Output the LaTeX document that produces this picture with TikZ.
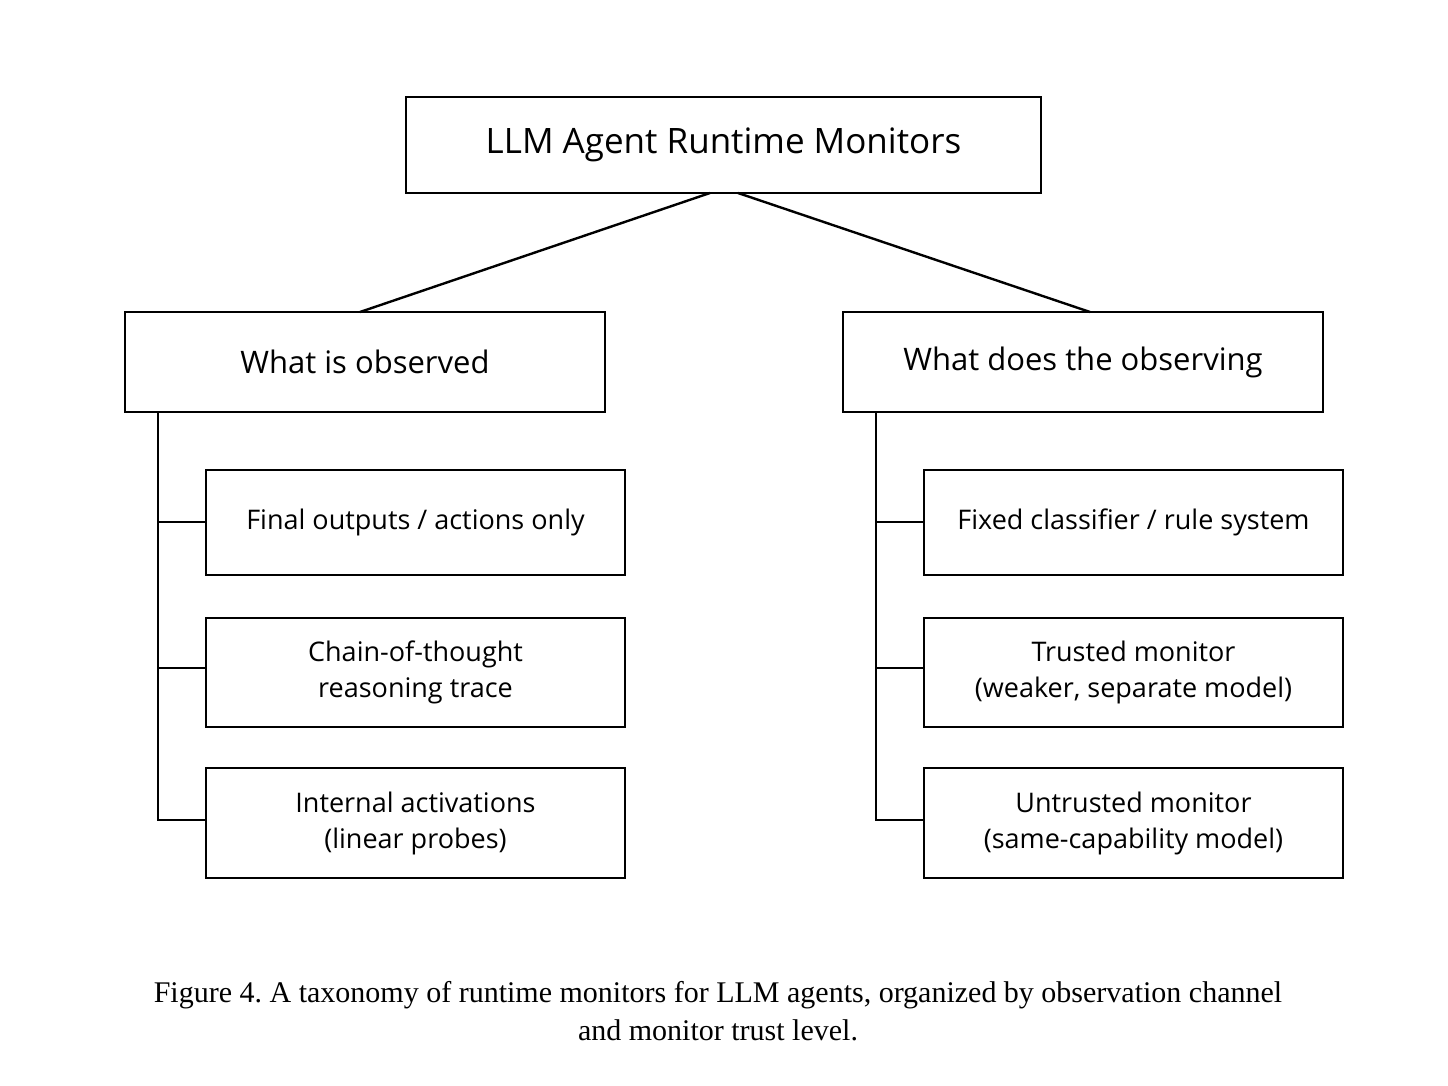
\documentclass[tikz,border=0pt]{standalone}
\usepackage{fontspec}
\setmainfont{Liberation Serif}
\newfontfamily\boxfont{Open Sans}
\begin{document}
\begin{tikzpicture}[x=0.5pt,y=-0.5pt,line width=1.2pt,
  bx/.style={draw,inner sep=0pt,align=center,font=\boxfont\fontsize{13.5}{18}\selectfont},
  rootbx/.style={bx,minimum width=317.5pt,minimum height=48pt,font=\boxfont\fontsize{17.5}{21}\selectfont},
  midbx/.style={bx,minimum width=240pt,minimum height=50pt,font=\boxfont\fontsize{15.5}{20}\selectfont},
  leafbx/.style={bx,minimum width=209.5pt}]
\useasboundingbox (0,0) rectangle (1448,1086);
\node[rootbx] (root) at (723.5,145) {LLM Agent Runtime Monitors};
\node[midbx] (L) at (365,362) {What is observed};
\node[midbx] (R) at (1083,362) {What does the observing};
\node[leafbx,minimum height=52.5pt] (L1) at (415.5,522.5) {Final outputs / actions only};
\node[leafbx,minimum height=54.5pt] (L2) at (415.5,672.5) {Chain-of-thought\\reasoning trace};
\node[leafbx,minimum height=55pt] (L3) at (415.5,823) {Internal activations\\(linear probes)};
\node[leafbx,minimum height=52.5pt] (R1) at (1133.5,522.5) {Fixed classifier / rule system};
\node[leafbx,minimum height=54.5pt] (R2) at (1133.5,672.5) {Trusted monitor\\(weaker, separate model)};
\node[leafbx,minimum height=55pt] (R3) at (1133.5,823) {Untrusted monitor\\(same-capability model)};
\coordinate (rl) at (710,193); \coordinate (rr) at (738,193);
\draw (rl) -- (360,312);
\draw (rr) -- (1090,312);
\draw (158,412) -- (158,820) -- (L3.west |- 0,820);
\draw (158,522) -- (L1.west |- 0,522);
\draw (158,668) -- (L2.west |- 0,668);
\draw (876,412) -- (876,820) -- (R3.west |- 0,820);
\draw (876,522) -- (R1.west |- 0,522);
\draw (876,668) -- (R2.west |- 0,668);
\node[align=center,font=\fontsize{15}{19}\selectfont] (cap) at (718,1011) {Figure 4.\ A taxonomy of runtime monitors for LLM agents, organized by observation channel\\and monitor trust level.};
\end{tikzpicture}
\end{document}
